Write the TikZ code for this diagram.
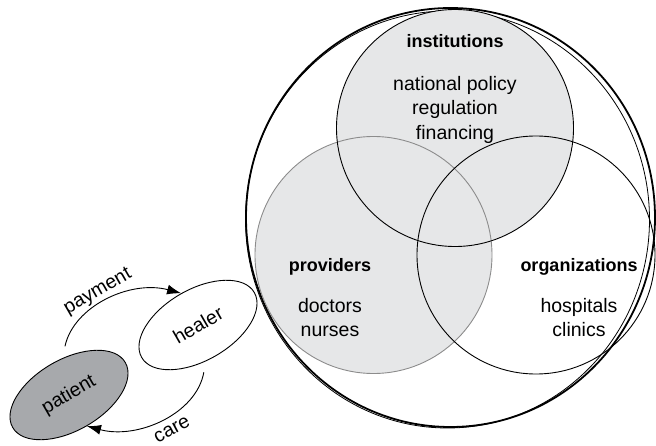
\documentclass[tikz,border=0pt]{standalone}
\usepackage{fontspec}
\setmainfont{Liberation Sans}
\usetikzlibrary{arrows.meta,shapes.geometric}
\definecolor{venngray}{RGB}{230,231,232}
\definecolor{patientgray}{RGB}{167,169,172}
\definecolor{ringgray}{RGB}{140,140,140}

\begin{document}
\begin{tikzpicture}[x=1pt, y=1pt, font=\fontsize{19.5}{24.5}\selectfont,
		head/.style={anchor=base, font=\fontsize{18}{22}\selectfont\bfseries},
		items/.style={align=center},
		party/.style={draw, ellipse, rotate=30, minimum width=130pt, minimum height=71pt, inner sep=0pt, line width=0.9pt},
		flow/.style={-{Latex[length=14pt,width=10pt]}, line width=0.9pt},
		ring/.style={line width=0.9pt}]
		\useasboundingbox (0,0) rectangle (656,445);
		
		% system
		\coordinate (inst) at (455,317);
		\coordinate (prov) at (373.5,190);
		\coordinate (orgs) at (536,190);
		\draw[line width=1.8pt] (450.5,227.5) ellipse (204.5 and 209.5);
		\draw[line width=0.8pt] (447.5,225.5) ellipse (202 and 208.5);
		\fill[venngray] (prov) circle (118.5);
		\fill[venngray] (inst) circle (118.5);
		\draw[ring, ringgray] (prov) circle (118.5);
		\draw[ring] (inst) circle (118.5);
		\draw[ring] (orgs) circle (119);
		
		\node[head] (institutions) at (455,397) {institutions};
		\node[items] (instlist) at (455,335.5) {national policy\\regulation\\financing};
		\node[head] (providers) at (330,173) {providers};
		\node[items] (provlist) at (330,127.5) {doctors\\nurses};
		\node[head] (organizations) at (579,173) {organizations};
		\node[items] (orgslist) at (579,127.5) {hospitals\\clinics};
		
		% exchange
		\node[party, fill=patientgray] (patient) at (69,50) {patient};
		\node[party] (healer) at (198,120) {healer};
		
		\draw[flow, shorten <=12pt] (patient.70) to[out=78, in=165] (healer.88);
		\draw[flow, shorten <=11pt] (healer.-108) to[out=-100, in=-15] (patient.-90);
		\node[rotate=30] (payment) at (98,153) {payment};
		\node[rotate=28] (care) at (172,15) {care};
	\end{tikzpicture}
\end{document}
